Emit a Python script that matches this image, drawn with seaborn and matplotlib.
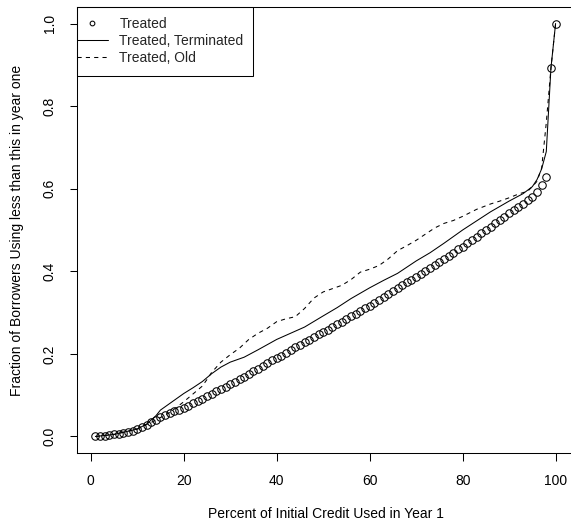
import numpy as np
import pandas as pd
import matplotlib
matplotlib.use("Agg")
import matplotlib.pyplot as plt
import seaborn as sns
from matplotlib.lines import Line2D
from matplotlib.patches import Rectangle

# ---------------- data ----------------
treated_x = list(range(1, 101))
treated_y = [
    0.000, 0.001, 0.002, 0.004, 0.005, 0.007, 0.009, 0.011, 0.014, 0.018,
    0.022, 0.028, 0.034, 0.040, 0.046, 0.051, 0.056, 0.061, 0.065, 0.070,
    0.075, 0.080, 0.086, 0.091, 0.097, 0.103, 0.109, 0.115, 0.121, 0.127,
    0.133, 0.139, 0.145, 0.152, 0.158, 0.164, 0.171, 0.177, 0.184, 0.190,
    0.196, 0.203, 0.209, 0.216, 0.222, 0.228, 0.234, 0.241, 0.247, 0.253,
    0.259, 0.266, 0.272, 0.278, 0.285, 0.291, 0.297, 0.303, 0.310, 0.316,
    0.323, 0.330, 0.337, 0.345, 0.352, 0.359, 0.366, 0.373, 0.380, 0.387,
    0.394, 0.401, 0.408, 0.416, 0.423, 0.430, 0.438, 0.445, 0.453, 0.460,
    0.468, 0.476, 0.484, 0.492, 0.500, 0.508, 0.516, 0.524, 0.532, 0.540,
    0.548, 0.556, 0.564, 0.572, 0.580, 0.593, 0.608, 0.628, 0.892, 1.000,
]

term_x = [1, 5, 10, 12, 13, 14, 15, 16, 18, 20, 22, 24, 26, 28, 30, 33, 36, 40,
          43, 46, 50, 53, 56, 60, 63, 66, 70, 73, 76, 80, 83, 86, 90, 93, 95,
          96, 97, 98, 99, 100]
term_y = [0.000, 0.005, 0.018, 0.030, 0.040, 0.050, 0.064, 0.072, 0.088, 0.104,
          0.118, 0.133, 0.152, 0.168, 0.180, 0.192, 0.210, 0.235, 0.250, 0.265,
          0.292, 0.312, 0.334, 0.360, 0.378, 0.395, 0.425, 0.445, 0.468, 0.500,
          0.522, 0.544, 0.570, 0.588, 0.605, 0.622, 0.648, 0.690, 0.892, 1.000]

old_x = [1, 5, 10, 13, 15, 17, 20, 22, 24, 25, 26, 28, 30, 32, 34, 36, 38, 40,
         42, 44, 46, 48, 50, 52, 54, 56, 58, 60, 62, 64, 66, 68, 70, 72, 74,
         76, 78, 80, 83, 86, 88, 90, 92, 94, 95, 96, 97, 98, 99, 100]
old_y = [0.000, 0.005, 0.018, 0.034, 0.046, 0.058, 0.084, 0.103, 0.122, 0.138,
         0.155, 0.180, 0.198, 0.214, 0.235, 0.250, 0.262, 0.278, 0.285, 0.290,
         0.310, 0.335, 0.350, 0.358, 0.366, 0.380, 0.398, 0.405, 0.414, 0.430,
         0.450, 0.462, 0.475, 0.490, 0.505, 0.516, 0.523, 0.533, 0.550, 0.563,
         0.570, 0.578, 0.587, 0.594, 0.605, 0.618, 0.650, 0.760, 0.892, 1.000]

x_ticks = [0, 20, 40, 60, 80, 100]
y_ticks = [0.0, 0.2, 0.4, 0.6, 0.8, 1.0]
legend_labels = ["Treated", "Treated, Terminated", "Treated, Old"]

# ---------------- style ----------------
sns.set_theme(style="white")
FONT = ["Liberation Sans", "DejaVu Sans"]
plt.rcParams["font.family"] = FONT
FS = 10.0

fig = plt.figure(figsize=(5.71, 5.25), dpi=100)
W, H = 571, 525
L, R, T, B = 77, 574, 7, 453
ax = fig.add_axes([L / W, (H - B) / H, (R - L) / W, (B - T) / H])
AW, AH = R - L, B - T

sns.lineplot(x=treated_x, y=treated_y, ax=ax, linestyle="none", marker="o",
             markersize=5.4, markerfacecolor="none", markeredgecolor="black",
             markeredgewidth=0.75, color="black", estimator=None, sort=False)
sns.lineplot(x=term_x, y=term_y, ax=ax, color="black", linewidth=0.75,
             estimator=None, sort=False)
sns.lineplot(x=old_x, y=old_y, ax=ax, color="black", linewidth=0.75,
             linestyle=(0, (4, 4)), estimator=None, sort=False)

ax.set_xlim(-2.96, 103.96)
ax.set_ylim(-0.04, 1.04)
ax.set_xticks(x_ticks)
ax.set_xticklabels([str(v) for v in x_ticks])
ax.set_yticks(y_ticks)
ax.set_yticklabels([f"{v:.1f}" for v in y_ticks], rotation=90, va="center")

for s in ax.spines.values():
    s.set_color("black")
    s.set_linewidth(0.75)
ax.tick_params(axis="both", direction="out", length=5.4, width=0.75,
               color="black", labelsize=FS, labelcolor="black",
               left=True, bottom=True)
ax.tick_params(axis="x", pad=9.9)
ax.tick_params(axis="y", pad=9.0)

ax.set_xlabel("Percent of Initial Credit Used in Year 1", fontsize=FS,
              color="black", labelpad=13.5)
ax.set_ylabel("Fraction of Borrowers Using less than this in year one",
              fontsize=FS, color="black", labelpad=13.5)

handles = [
    Line2D([], [], linestyle="none", marker="o", markersize=3.4,
           markerfacecolor="none", markeredgecolor="black", markeredgewidth=0.75),
    Line2D([], [], color="black", linewidth=0.75),
    Line2D([], [], color="black", linewidth=0.75, linestyle=(0, (4, 4))),
]
leg = ax.legend(handles, legend_labels, loc="upper left",
                bbox_to_anchor=(0.0, 1 - (17.0 - T) / AH),
                borderaxespad=0, borderpad=0, fontsize=FS, frameon=False,
                handlelength=2.2, handletextpad=0.85, labelspacing=0.22)
# legend border box (R-style, square corners, flush with the axes corner)
ax.add_patch(Rectangle((0, 1 - (75.5 - T) / AH), (252.5 - L) / AW,
                       (75.5 - T) / AH, transform=ax.transAxes, fill=False,
                       edgecolor="black", linewidth=0.75, clip_on=False,
                       zorder=5))

fig.savefig("out.png", dpi=100)
